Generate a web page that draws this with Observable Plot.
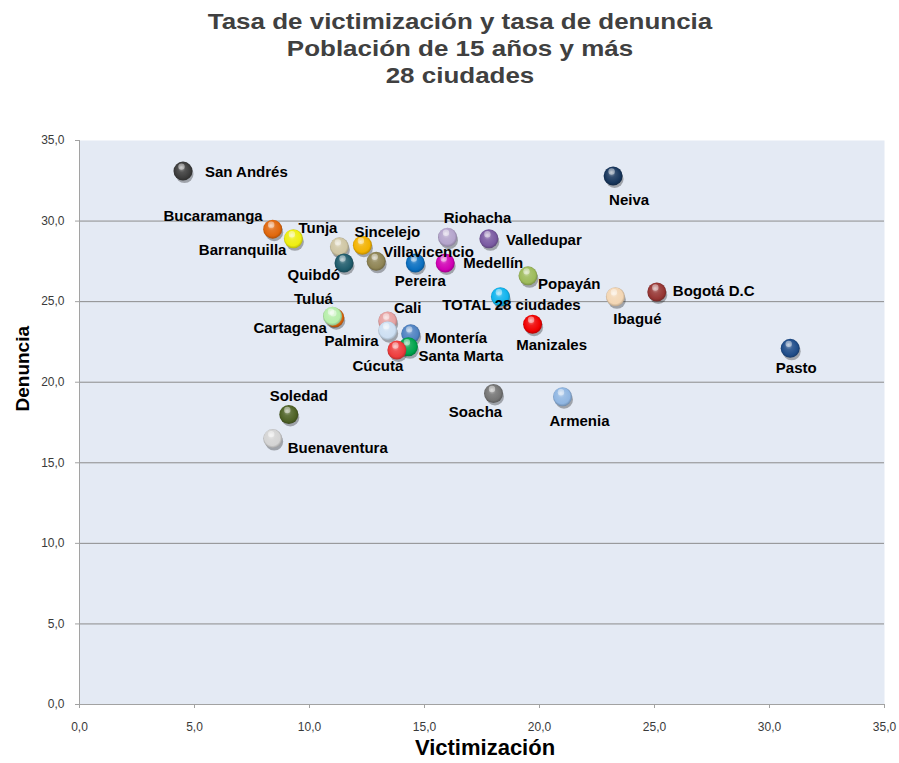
<!DOCTYPE html>
<html>
<head>
<meta charset="utf-8">
<script src="https://cdn.jsdelivr.net/npm/d3@7"></script>
<script src="https://cdn.jsdelivr.net/npm/@observablehq/plot@0.6"></script>
<style>
  html, body { margin: 0; padding: 0; background: #ffffff; }
  #wrap { width: 899px; height: 763px; position: relative; overflow: hidden; }
  #title {
    height: 100px; box-sizing: border-box; padding-top: 8px; padding-left: 21px;
    font-family: "Liberation Sans", Arial, sans-serif; font-weight: bold; font-size: 22px;
    line-height: 27px; color: #404040; text-align: center;
    transform: scaleX(1.18); transform-origin: 460px 0;
  }
  #chart svg { display: block; }
</style>
</head>
<body>
<div id="wrap">
  <div id="title">
    <div>Tasa de victimización y tasa de denuncia</div>
    <div>Población de 15 años y más</div>
    <div>28 ciudades</div>
  </div>
  <div id="chart"></div>
</div>
<svg width="0" height="0" style="position:absolute" id="defs-holder"><defs id="defs"></defs></svg>
<script>
// ---- data ----
const cities = [
  "San Andrés", "Bucaramanga", "Barranquilla", "Tunja", "Sincelejo", "Villavicencio",
  "Quibdó", "Pereira", "Riohacha", "Valledupar", "Medellín", "Popayán", "Neiva",
  "Ibagué", "Bogotá D.C", "TOTAL 28 ciudades", "Manizales", "Pasto", "Cartagena",
  "Tuluá", "Cali", "Palmira", "Montería", "Santa Marta", "Cúcuta", "Soledad",
  "Buenaventura", "Soacha", "Armenia"
];
const victimizacion = [
  4.5, 8.4, 9.3, 11.3, 12.3, 12.9,
  11.5, 14.6, 16.0, 17.8, 15.9, 19.5, 23.2,
  23.3, 25.1, 18.3, 19.7, 30.9, 11.1,
  11.0, 13.4, 13.4, 14.4, 14.3, 13.8, 9.1,
  8.4, 18.0, 21.0
];
const denuncia = [
  33.1, 29.5, 28.9, 28.4, 28.5, 27.5,
  27.4, 27.4, 29.0, 28.9, 27.4, 26.6, 32.8,
  25.3, 25.6, 25.3, 23.6, 22.1, 24.0,
  24.1, 23.8, 23.2, 23.0, 22.2, 22.0, 18.0,
  16.5, 19.3, 19.1
];
const colors = [
  "#3c3c3c", "#e0670c", "#eeee10", "#cfc6a4", "#f2b200", "#8e8454",
  "#1f5c6c", "#0a6fc0", "#b4a4cc", "#7a5aa2", "#d000b4", "#9dbb5a", "#17365c",
  "#f3d6b4", "#963634", "#10b4ee", "#f00000", "#1f4d8a", "#e0670c",
  "#b6eeaa", "#e6a2a2", "#cddff2", "#4f82c2", "#00a44c", "#ee3c3c", "#4e6226",
  "#d4d4d4", "#747474", "#90b6e2"
];
const xTicks = [0, 5, 10, 15, 20, 25, 30, 35];
const yTicks = [0, 5, 10, 15, 20, 25, 30, 35];
const yGrid = [5, 10, 15, 20, 25, 30];

// label placement: [text-anchor, dx, dy] in pixels
const labelPlacement = {
  "San Andrés": ["start", 22, 1],
  "Bucaramanga": ["end", -10, -13],
  "Barranquilla": ["end", -7, 11],
  "Tunja": ["end", -2, -19],
  "Sincelejo": ["start", -8, -13],
  "Villavicencio": ["start", 7, -9],
  "Quibdó": ["end", -4, 12],
  "Pereira": ["middle", 5, 18],
  "Riohacha": ["middle", 30, -19],
  "Valledupar": ["start", 17, 1],
  "Medellín": ["start", 18, 0],
  "Popayán": ["start", 10, 8],
  "Neiva": ["middle", 16, 24],
  "Ibagué": ["middle", 22, 22],
  "Bogotá D.C": ["start", 16, -1],
  "TOTAL 28 ciudades": ["middle", 11, 8],
  "Manizales": ["middle", 19, 21],
  "Pasto": ["middle", 6, 20],
  "Cartagena": ["end", -8, 10],
  "Tuluá": ["middle", -19, -17],
  "Cali": ["middle", 20, -13],
  "Palmira": ["end", -9, 11],
  "Montería": ["start", 14, 4],
  "Santa Marta": ["start", 10, 9],
  "Cúcuta": ["middle", -19, 16],
  "Soledad": ["middle", 10, -18],
  "Buenaventura": ["start", 15, 10],
  "Soacha": ["middle", -18, 19],
  "Armenia": ["middle", 17, 24]
};

// ---- gradients for sphere look ----
const defs = d3.select("#defs");
const blur = defs.append("filter").attr("id", "blur").attr("x", "-50%").attr("y", "-50%").attr("width", "200%").attr("height", "200%");
blur.append("feGaussianBlur").attr("stdDeviation", 1.6);
const hlBlur = defs.append("filter").attr("id", "hlblur").attr("x", "-50%").attr("y", "-50%").attr("width", "200%").attr("height", "200%");
hlBlur.append("feGaussianBlur").attr("stdDeviation", 0.8);
colors.forEach((c, i) => {
  const g = defs.append("radialGradient").attr("id", "s" + i)
    .attr("cx", 0.5).attr("cy", 0.5).attr("r", 0.55).attr("fx", 0.4).attr("fy", 0.3);
  const light = d3.interpolateRgb(c, "#ffffff")(0.55);
  const mid = d3.interpolateRgb(c, "#ffffff")(0.12);
  const dark = d3.color(c).darker(1.1).formatHex();
  g.append("stop").attr("offset", "0%").attr("stop-color", light);
  g.append("stop").attr("offset", "35%").attr("stop-color", mid);
  g.append("stop").attr("offset", "75%").attr("stop-color", c);
  g.append("stop").attr("offset", "100%").attr("stop-color", dark);
});

const data = cities.map((c, i) => ({
  city: c, v: victimizacion[i], d: denuncia[i], grad: `url(#s${i})`
}));

const fmt = d => d.toFixed(1).replace(".", ",");
const tickFont = '"Liberation Sans", Arial, sans-serif';

const labelMarks = data.map(row => {
  const [anchor, dx, dy] = labelPlacement[row.city];
  return Plot.text([row], {
    x: "v", y: "d", text: "city", textAnchor: anchor, dx, dy,
    fontSize: 15, fontWeight: "bold", fill: "#000000"
  });
});

const chart = Plot.plot({
  width: 899,
  height: 663,
  marginTop: 40,
  marginBottom: 59,
  marginLeft: 79,
  marginRight: 15,
  style: { fontFamily: '"Liberation Sans", Arial, sans-serif', background: "transparent", overflow: "visible" },
  x: { domain: [0, 35] },
  y: { domain: [0, 35] },
  color: { type: "identity" },
  marks: [
    Plot.frame({ fill: "#e4eaf4", stroke: null }),
    Plot.gridY({ ticks: yGrid, stroke: "#8c8c8c", strokeOpacity: 1 }),
    Plot.ruleY([0], { stroke: "#a2a2a2" }),
    Plot.ruleX([0], { stroke: "#a2a2a2" }),
    Plot.axisY({ ticks: yTicks, tickFormat: fmt, tickSize: 4, tickPadding: 11, stroke: "#a2a2a2",
      fill: "#3a3a3a", fontSize: 12, fontFamily: tickFont, label: null }),
    Plot.axisX({ ticks: xTicks, tickFormat: fmt, tickSize: 4, tickPadding: 14, stroke: "#a2a2a2",
      fill: "#3a3a3a", fontSize: 12, fontFamily: tickFont, label: null }),
    Plot.dot(data, { x: "v", y: "d", r: 9, fill: "#000000", fillOpacity: 0.3, dx: 1.5, dy: 3, ariaLabel: "shadow" }),
    Plot.dot(data, { x: "v", y: "d", r: 9.5, fill: "grad", ariaLabel: "sphere" }),
    Plot.dot(data, { x: "v", y: "d", r: 3.2, fill: "#ffffff", fillOpacity: 0.45, dx: -1.5, dy: -4.5, ariaLabel: "highlight" }),
    ...labelMarks,
    Plot.text(["Victimización"], { frameAnchor: "bottom", dx: 3, dy: 50, text: d => d,
      fontSize: 22, fontWeight: "bold", fill: "#000000" }),
    Plot.text(["Denuncia"], { frameAnchor: "left", dx: -57, dy: -11, rotate: -90, text: d => d,
      fontSize: 19, fontWeight: "bold", fill: "#000000" })
  ]
});

d3.select(chart).select('g[aria-label="shadow"]').attr("filter", "url(#blur)");
d3.select(chart).select('g[aria-label="highlight"]').attr("filter", "url(#hlblur)");
document.getElementById("chart").appendChild(chart);
</script>
</body>
</html>
